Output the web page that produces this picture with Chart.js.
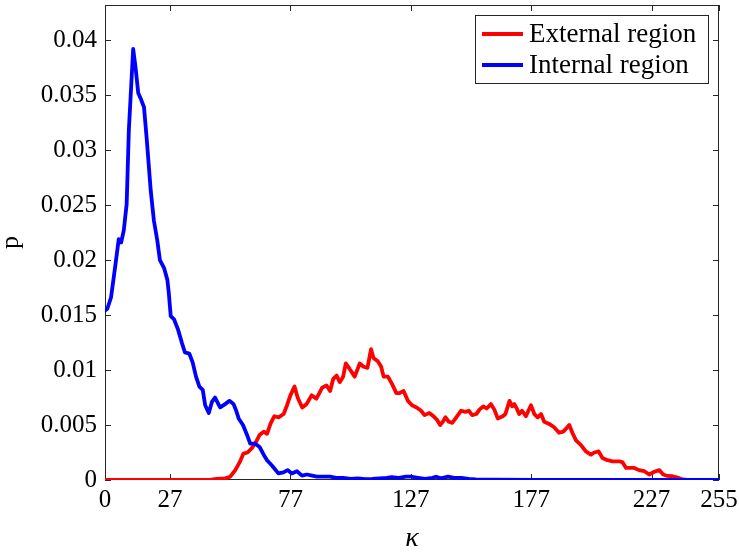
<!DOCTYPE html>
<html><head><meta charset="utf-8">
<script src="https://cdn.jsdelivr.net/npm/chart.js@4"></script>
<style>html,body{margin:0;padding:0;background:#fff}#c{display:block}</style>
</head><body>
<canvas id="c" width="740" height="555"></canvas>
<script>
// ---- data ----
const extK = [0,20,40,43.5,46.4,49.9,52,54.1,55.9,57.5,59.2,61,62.8,64.2,65.9,67.3,68.7,70.3,72.1,74.2,75.6,77,78.7,80,81.9,83.7,85.8,87.8,90.2,92,93.5,94.8,96.2,97.5,98.9,100,101.6,103.7,105.8,107.4,109,110.5,111.5,113.3,114.7,115.7,117.5,119.3,121,122.3,124,125.8,127.5,129.4,131.3,132.7,134.7,136.4,137.8,139.2,140.3,141.4,142.8,144.2,145.9,147.9,149.7,151.1,152.5,154.2,155.5,157.1,158.5,160.3,161.7,163.1,165.2,166.3,168,169.1,170,171,172,173.2,174.8,176.9,178.3,179.7,181.1,182.4,184.5,186.5,188.6,190.3,191.6,192.8,194.1,195.6,197.6,199.7,201.8,203.2,205,206.6,208.7,210.8,213.6,215,216.4,218.5,219.8,221.8,224,226,228.1,230.2,231.8,233.6,235.7,237.8,239.9,242,255];
const extP = [0,0,0,0.00002,0.0001,0.00015,0.0003,0.0009,0.0016,0.0024,0.0025,0.0029,0.0035,0.0041,0.0044,0.0042,0.0051,0.0058,0.0057,0.0060,0.0068,0.0077,0.0085,0.0075,0.0066,0.0069,0.0077,0.0074,0.0084,0.0086,0.0081,0.0092,0.0095,0.0089,0.0094,0.0106,0.0101,0.0094,0.0106,0.0103,0.0102,0.0119,0.0111,0.0108,0.0103,0.0094,0.0094,0.0087,0.0079,0.0079,0.0081,0.0072,0.0068,0.0066,0.0063,0.0059,0.0061,0.0058,0.0055,0.0050,0.0053,0.0057,0.0053,0.0052,0.0057,0.0063,0.0062,0.0063,0.0059,0.0060,0.0064,0.0067,0.0065,0.0069,0.0064,0.0056,0.0058,0.0060,0.0072,0.0067,0.0069,0.0065,0.0060,0.0063,0.0058,0.0068,0.0060,0.0057,0.0060,0.0053,0.0051,0.0048,0.0043,0.0044,0.0047,0.0050,0.0043,0.0036,0.0032,0.0026,0.0023,0.0025,0.0026,0.0020,0.0018,0.0017,0.0017,0.0016,0.0011,0.0011,0.0011,0.0009,0.0008,0.0005,0.00075,0.0009,0.0005,0.00037,0.00034,0.00022,0.00005,0,0];

const intK = [0,1,2.5,4.4,5.7,6.7,7.8,9,9.9,11.7,12.7,13.8,15,16.2,17.3,19,20.3,21.7,22.8,24.5,25.9,26.5,27.3,28.7,30.3,31.9,33.2,35,36.4,37.8,39.2,40.6,41.6,43.1,44.4,45.7,47.8,49.9,51.7,53.4,54.5,55.5,57.3,59,60.3,62.4,64.2,65.9,67.3,69.4,72,74.1,75.8,77.6,79.7,81.8,83.9,86,88,91,93.5,96,99,102,105,108,111,114,117,119,122,125,127,130,133,136,137.5,139.5,142.5,145,148,151,154,160,180,200,255];
const intP = [0.0154,0.0156,0.0166,0.0197,0.0219,0.0216,0.0227,0.0251,0.0318,0.0392,0.0375,0.0352,0.0346,0.0339,0.0311,0.0263,0.0236,0.0218,0.0200,0.0193,0.0182,0.0170,0.0149,0.0146,0.0137,0.0125,0.0116,0.0115,0.0107,0.0094,0.0085,0.0082,0.0068,0.0061,0.0071,0.0075,0.0066,0.0069,0.0072,0.0069,0.0063,0.0056,0.0050,0.0041,0.0033,0.0033,0.0030,0.0023,0.0018,0.0013,0.0006,0.0007,0.0009,0.0006,0.0008,0.0004,0.0005,0.0004,0.0003,0.0003,0.0003,0.0002,0.0002,0.0001,0.00015,0.00008,0.0001,0.00015,0.0002,0.00025,0.0002,0.0003,0.0003,0.0002,0.0001,0.0002,0.0003,0.00015,0.0003,0.0002,0.0002,0.0001,0.00005,0.00003,0.00002,0,0];

const seriesLabels = ['External region','Internal region'];
const xTicks = [0,27,77,127,177,227,255];
const yTicks = [0,0.005,0.01,0.015,0.02,0.025,0.03,0.035,0.04];
const yTickLabels = ['0','0.005','0.01','0.015','0.02','0.025','0.03','0.035','0.04'];

// ---- chart ----
const AX = '#262626';
const FONT = 'Liberation Serif';
const toXY = (ks, ps) => ks.map((k, i) => ({x: k, y: ps[i]}));
const noPad = s => { s.paddingTop = 0; s.paddingBottom = 0; s.paddingLeft = 0; s.paddingRight = 0; };

const axesPlugin = {
  id: 'matlabAxes',
  beforeDatasetsDraw(chart) {
    const {ctx, chartArea: a, scales: {x, y}} = chart;
    ctx.save();
    ctx.strokeStyle = AX;
    ctx.lineWidth = 1;
    ctx.strokeRect(Math.round(a.left) + 0.5, Math.round(a.top) + 0.5, Math.round(a.right - a.left) - 1, Math.round(a.bottom - a.top) - 1);
    const tl = 6;
    ctx.beginPath();
    x.ticks.forEach(t => {
      const px = Math.round(x.getPixelForValue(t.value)) + 0.5;
      ctx.moveTo(px, a.bottom); ctx.lineTo(px, a.bottom - tl);
      ctx.moveTo(px, a.top); ctx.lineTo(px, a.top + tl);
    });
    y.ticks.forEach(t => {
      const py = Math.round(y.getPixelForValue(t.value)) + 0.5;
      ctx.moveTo(a.left, py); ctx.lineTo(a.left + tl, py);
      ctx.moveTo(a.right, py); ctx.lineTo(a.right - tl, py);
    });
    ctx.stroke();
    ctx.restore();
  },
  afterDraw(chart) {
    const {ctx} = chart;
    const bx = 475.5, by = 15.5, bw = 233, bh = 68;
    ctx.save();
    ctx.fillStyle = '#fff';
    ctx.fillRect(bx, by, bw, bh);
    ctx.strokeStyle = AX;
    ctx.lineWidth = 1;
    ctx.strokeRect(bx, by, bw, bh);
    const rows = [34, 65];
    ctx.font = '27px "' + FONT + '"';
    ctx.textBaseline = 'middle';
    ctx.textAlign = 'left';
    chart.data.datasets.forEach((ds, i) => {
      ctx.strokeStyle = ds.borderColor;
      ctx.lineWidth = 3.8;
      ctx.beginPath();
      ctx.moveTo(482, rows[i]); ctx.lineTo(523, rows[i]);
      ctx.stroke();
      ctx.fillStyle = '#000';
      ctx.fillText(ds.label, 529, rows[i] + 1);
    });
    ctx.restore();
  }
};

new Chart(document.getElementById('c'), {
  type: 'line',
  data: {
    datasets: [
      {label: seriesLabels[0], data: toXY(extK, extP), borderColor: '#ff0000', borderWidth: 3.8, pointRadius: 0, tension: 0, fill: false, order: 1, borderJoinStyle: 'round', borderCapStyle: 'round'},
      {label: seriesLabels[1], data: toXY(intK, intP), borderColor: '#0000ff', borderWidth: 3.8, pointRadius: 0, tension: 0, fill: false, order: 0, borderJoinStyle: 'round', borderCapStyle: 'round'}
    ]
  },
  options: {
    responsive: false,
    animation: false,
    devicePixelRatio: 1,
    layout: {padding: {left: 0, right: 21, top: 5, bottom: 0}},
    plugins: {legend: {display: false}, tooltip: {enabled: false}},
    scales: {
      x: {
        type: 'linear', min: 0, max: 255,
        afterBuildTicks: s => { s.ticks = xTicks.map(v => ({value: v})); },
        afterFit: s => { s.height = 75; noPad(s); },
        grid: {display: false, drawTicks: false},
        border: {display: false},
        ticks: {font: {family: FONT, size: 25}, color: '#000', padding: 5, maxRotation: 0, autoSkip: false, callback: v => String(v)},
        title: {display: true, text: 'κ', color: '#000', font: {family: FONT, size: 28, style: 'italic', lineHeight: 1.2}, padding: {top: 0, bottom: 0}}
      },
      y: {
        type: 'linear', min: 0, max: 0.0432,
        afterBuildTicks: s => { s.ticks = yTicks.map(v => ({value: v})); },
        afterFit: s => { s.width = 105; noPad(s); },
        grid: {display: false, drawTicks: false},
        border: {display: false},
        ticks: {font: {family: FONT, size: 25}, color: '#000', padding: 8, autoSkip: false, callback: (v, i) => yTickLabels[yTicks.indexOf(v)] ?? ''},
        title: {display: true, text: 'p', color: '#000', font: {family: FONT, size: 26, lineHeight: 0.85}, padding: {top: 0, bottom: 0}}
      }
    }
  },
  plugins: [axesPlugin]
});
</script>
</body></html>
